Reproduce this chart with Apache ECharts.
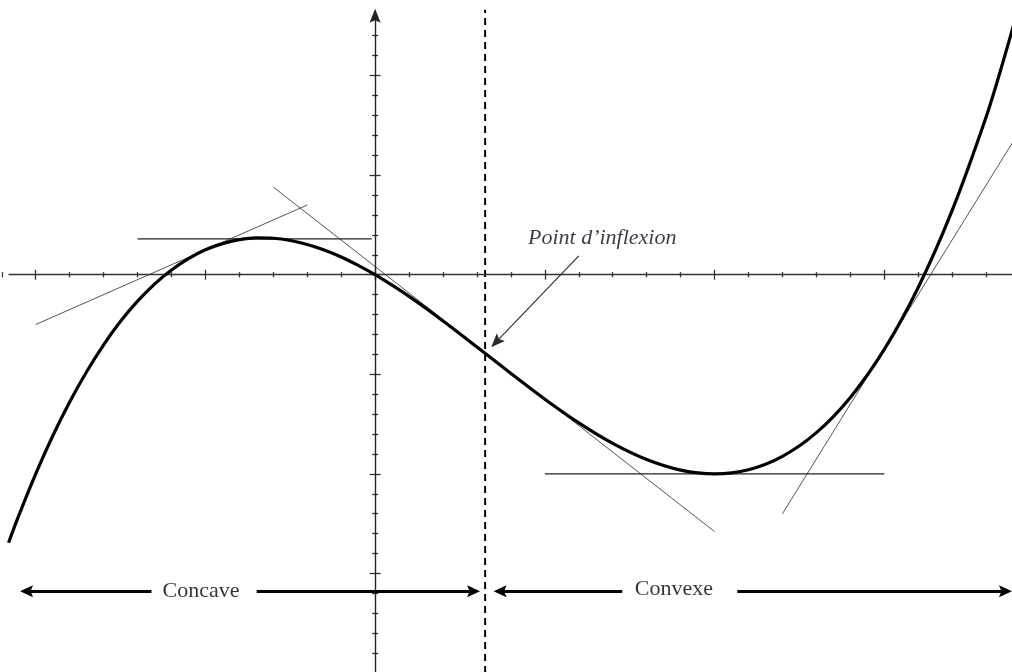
<!DOCTYPE html>
<html>
<head>
<meta charset="utf-8">
<script src="https://cdn.jsdelivr.net/npm/echarts@6/dist/echarts.min.js"></script>
<style>
html,body{margin:0;padding:0;background:#fff;overflow:hidden;width:1012px;height:672px;position:relative;}
#c{position:absolute;left:-134px;top:-24.3px;width:1188px;height:697.2px;}
</style>
</head>
<body>
<div id="c"></div>
<script>
// ---- data (x in small-tick units, y in small-tick units) ----
const curveX = [-10.8, -10.5, -10, -9.5, -9, -8.5, -8, -7.5, -7, -6.5, -6, -5.5, -5, -4.5, -4, -3.5, -3, -2.5, -2, -1.5, -1, -0.5, 0,
                1, 2, 3, 4, 5, 6, 7, 8, 9, 10, 11, 12, 13, 14, 15, 16, 17, 18, 18.5, 19];
const curveY = [-13.46, -12.10, -10.00, -8.10, -6.39, -4.87, -3.52, -2.34, -1.33, -0.47, 0.24, 0.81, 1.25, 1.56, 1.76, 1.85, 1.83, 1.72, 1.52, 1.24, 0.89, 0.47, 0,
                -1.09, -2.32, -3.63, -4.96, -6.25, -7.44, -8.47, -9.28, -9.81, -10.00, -9.79, -9.12, -7.93, -6.16, -3.75, -0.64, 3.23, 7.92, 10.70, 13.70];

const tangentLeft    = [[-10, -2.5], [-2, 3.5]];
const tangentMax     = [[-7, 1.8], [-0.1, 1.8]];
const tangentInflex  = [[-3.0, 4.4], [10.0, -12.9]];
const tangentMin     = [[5, -10], [15, -10]];
const tangentRight   = [[12, -12], [18.8, 6.7]];

const inflexionLineX = 3.24;
const xAxisSpan = [-10.8, 18.8];
const yAxisSpan = [-20, 13.0];

const rangeY = -15.9;
const concaveSegments = [[-10.27, -6.59], [-3.49, 2.90]];
const convexSegments  = [[3.68, 7.28], [10.67, 18.57]];
const concaveLabel = {name: 'Concave', x: -5.13, y: -15.9};
const convexLabel  = {name: 'Convexe', x: 8.80, y: -15.8};
const inflexionLabel = {name: 'Point d’inflexion', x: 6.69, y: 1.82};
const inflexionArrow = [[6.0, 0.95], [3.56, -3.39]];

const tickMin = -15, tickMaxX = 20, tickMaxY = 15, tickMinY = -20;

// ---- chart ----
const ARROW = 'path://M5,0 L10,13 L5,10.5 L0,13 Z';
const chart = echarts.init(document.getElementById('c'), null, {renderer: 'canvas'});

function seg(pts, color, width, extra) {
  return Object.assign({
    type: 'line', data: pts, symbol: 'none', showSymbol: false, silent: true,
    lineStyle: {color: color, width: width}, z: 3, animation: false
  }, extra || {});
}
function ml(from, to, startArrow, endArrow, color, width, size) {
  return [
    {coord: from, symbol: startArrow ? ARROW : 'none', symbolSize: size},
    {coord: to, symbol: endArrow ? ARROW : 'none', symbolSize: size, lineStyle: {color: color, width: width, type: 'solid'}}
  ];
}
function axisCommon(extra) {
  return Object.assign({
    type: 'value',
    axisLine: {show: true, onZero: true, lineStyle: {color: 'rgba(0,0,0,0)'}},
    axisLabel: {show: false},
    splitLine: {show: false},
    axisTick: {show: true, inside: false, length: 5, lineStyle: {color: '#333', width: 1.3}},
    minorTick: {show: true, splitNumber: 5, length: 2.6, lineStyle: {color: '#333', width: 1.3}},
    minorSplitLine: {show: false}
  }, extra);
}

const markLineData = [
  // axes
  ml([xAxisSpan[0], 0], [xAxisSpan[1], 0], false, false, '#333', 1.4, [10, 13]),
  ml([0, yAxisSpan[0]], [0, yAxisSpan[1]], false, true, '#222', 1.4, [11, 14]),
  // concave / convex ranges
  ml([concaveSegments[0][0], rangeY], [concaveSegments[0][1], rangeY], true, false, '#000', 2.8, [12, 13]),
  ml([concaveSegments[1][0], rangeY], [concaveSegments[1][1], rangeY], false, true, '#000', 2.8, [12, 13]),
  ml([convexSegments[0][0], rangeY], [convexSegments[0][1], rangeY], true, false, '#000', 2.8, [12, 13]),
  ml([convexSegments[1][0], rangeY], [convexSegments[1][1], rangeY], false, true, '#000', 2.8, [12, 13]),
  // inflexion annotation arrow
  ml(inflexionArrow[0], inflexionArrow[1], false, true, '#2a2a2a', 1.1, [11, 14])
];

const yTick = {show: true, inside: false, length: 5.5, lineStyle: {color: '#333', width: 1.3}};
const yMinor = {show: true, splitNumber: 5, length: 3, lineStyle: {color: '#333', width: 1.3}};

const option = {
  backgroundColor: '#fff',
  animation: false,
  grid: {left: 0, right: 0, top: 0, bottom: 0, containLabel: false},
  xAxis: [
    axisCommon({min: tickMin, max: tickMaxX, interval: 5, position: 'bottom'}),
    axisCommon({min: tickMin, max: tickMaxX, interval: 5, position: 'top'})
  ],
  yAxis: [
    axisCommon({min: tickMinY, max: tickMaxY, interval: 5, position: 'left', axisTick: yTick, minorTick: yMinor}),
    axisCommon({min: tickMinY, max: tickMaxY, interval: 5, position: 'right', axisTick: yTick, minorTick: yMinor})
  ],
  series: [
    seg([[inflexionLineX, tickMinY], [inflexionLineX, 13.3]], '#000', 2, {lineStyle: {color: '#000', width: 2, type: [7, 5]}, z: 2}),
    seg(tangentLeft, '#555', 1),
    seg(tangentInflex, '#555', 1),
    seg(tangentRight, '#555', 1),
    seg(tangentMax, '#222', 1.2),
    seg(tangentMin, '#222', 1.2),
    {
      type: 'line', name: 'f', smooth: 0.35, symbol: 'none', showSymbol: false, silent: true, animation: false, z: 5,
      data: curveX.map((x, i) => [x, curveY[i]]),
      lineStyle: {color: '#000', width: 3.2}
    },
    {
      type: 'line', data: [], silent: true, animation: false, z: 4,
      markLine: {
        silent: true, animation: false, symbol: ['none', 'none'],
        label: {show: false}, emphasis: {disabled: true},
        lineStyle: {color: '#333', width: 1.4, type: 'solid'},
        data: markLineData
      }
    },
    {
      type: 'scatter', silent: true, animation: false, z: 6, symbolSize: 1,
      itemStyle: {color: 'rgba(0,0,0,0)'},
      label: {show: true, position: 'inside', formatter: '{b}', fontFamily: 'Liberation Serif', fontSize: 22, color: '#000'},
      data: [concaveLabel, convexLabel].map(d => ({name: d.name, value: [d.x, d.y]}))
    },
    {
      type: 'scatter', silent: true, animation: false, z: 6, symbolSize: 1,
      itemStyle: {color: 'rgba(0,0,0,0)'},
      label: {show: true, position: 'inside', formatter: '{b}', fontFamily: 'Liberation Serif', fontStyle: 'italic', fontSize: 22, color: '#0a0a1a'},
      data: [inflexionLabel].map(d => ({name: d.name, value: [d.x, d.y]}))
    }
  ]
};
chart.setOption(option);
</script>
</body>
</html>
